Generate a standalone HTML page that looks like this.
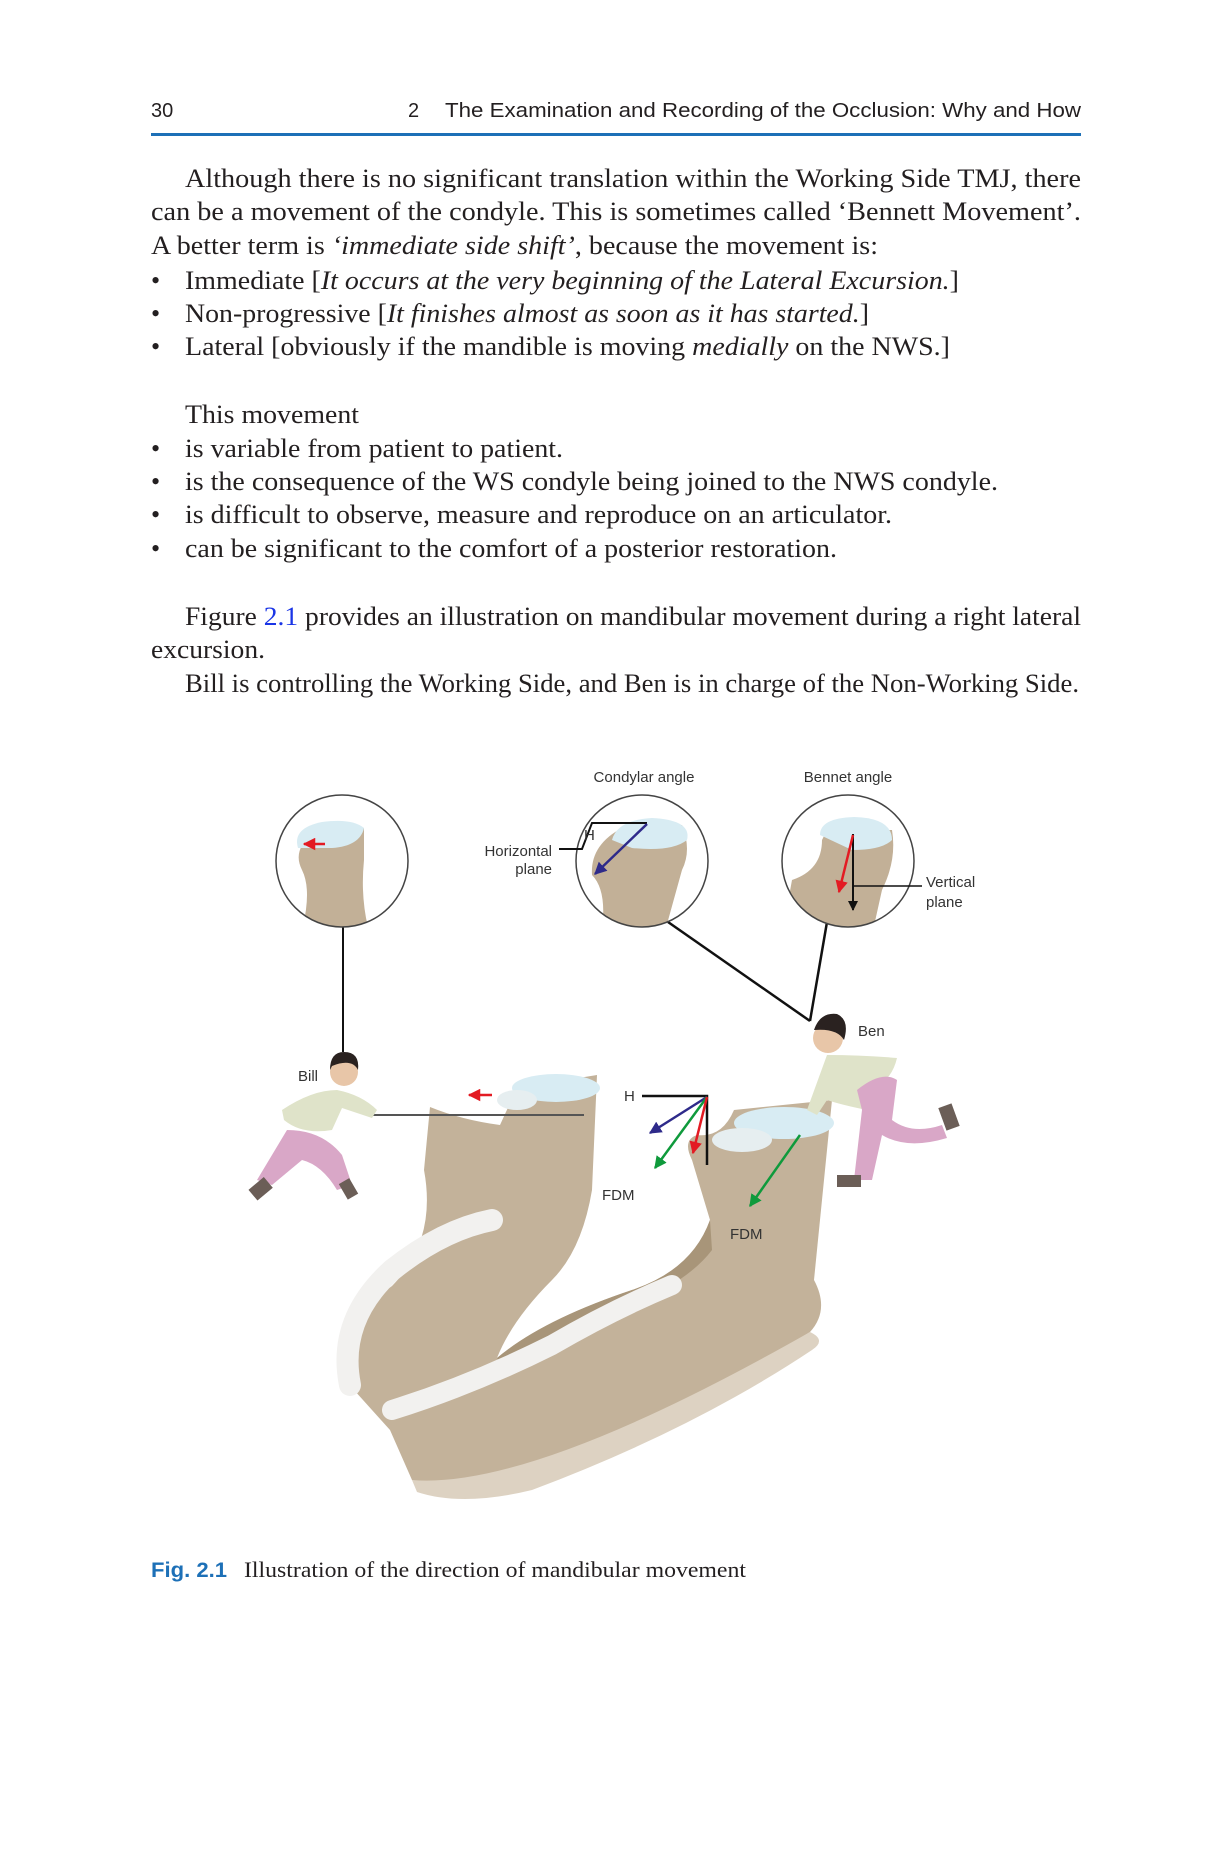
<!DOCTYPE html>
<html><head><meta charset="utf-8"><style>
html,body{margin:0;padding:0;background:#fff}
svg{display:block}
.s{font-family:"Liberation Serif",serif;font-size:26px;fill:#231f20}
.h{font-family:"Liberation Sans",sans-serif;font-size:20px;fill:#231f20}
.l{font-family:"Liberation Sans",sans-serif;font-size:15px;fill:#333}
</style></head><body>
<svg width="1221" height="1851" viewBox="0 0 1221 1851" xmlns="http://www.w3.org/2000/svg">
<defs>
<clipPath id="c1"><circle cx="350" cy="871" r="66"/></clipPath>
<clipPath id="c2"><circle cx="650" cy="871" r="66"/></clipPath>
<clipPath id="c3"><circle cx="856" cy="871" r="66"/></clipPath>
<marker id="ar" viewBox="0 0 10 10" refX="9" refY="5" markerWidth="5" markerHeight="5" orient="auto"><path d="M0,0L10,5L0,10z" fill="#e31b23"/></marker>
<marker id="ab" viewBox="0 0 10 10" refX="9" refY="5" markerWidth="5" markerHeight="5" orient="auto"><path d="M0,0L10,5L0,10z" fill="#2e2a8a"/></marker>
<marker id="ag" viewBox="0 0 10 10" refX="9" refY="5" markerWidth="5" markerHeight="5" orient="auto"><path d="M0,0L10,5L0,10z" fill="#0f9a3c"/></marker>
<marker id="ak" viewBox="0 0 10 10" refX="9" refY="5" markerWidth="5" markerHeight="5" orient="auto"><path d="M0,0L10,5L0,10z" fill="#111"/></marker>
</defs>
<text class="h" x="151" y="117">30</text>
<text class="h" x="408" y="117">2</text>
<text class="h" x="445" y="117" textLength="636" lengthAdjust="spacingAndGlyphs">The Examination and Recording of the Occlusion: Why and How</text>
<rect x="151" y="133" width="930" height="3" fill="#1d70b7"/>
<text class="s" x="185" y="187" textLength="896" lengthAdjust="spacingAndGlyphs">Although there is no significant translation within the Working Side TMJ, there</text>
<text class="s" x="151" y="220" textLength="930" lengthAdjust="spacingAndGlyphs">can be a movement of the condyle. This is sometimes called ‘Bennett Movement’.</text>
<text class="s" x="151" y="254" textLength="727" lengthAdjust="spacingAndGlyphs">A better term is <tspan font-style="italic">‘immediate side shift’</tspan>, because the movement is:</text>
<text class="s" x="151" y="289">•</text>
<text class="s" x="185" y="289" textLength="774" lengthAdjust="spacingAndGlyphs">Immediate [<tspan font-style="italic">It occurs at the very beginning of the Lateral Excursion.</tspan>]</text>
<text class="s" x="151" y="322">•</text>
<text class="s" x="185" y="322" textLength="684" lengthAdjust="spacingAndGlyphs">Non-progressive [<tspan font-style="italic">It finishes almost as soon as it has started.</tspan>]</text>
<text class="s" x="151" y="355">•</text>
<text class="s" x="185" y="355" textLength="765" lengthAdjust="spacingAndGlyphs">Lateral [obviously if the mandible is moving <tspan font-style="italic">medially</tspan> on the NWS.]</text>
<text class="s" x="185" y="423" textLength="174" lengthAdjust="spacingAndGlyphs">This movement</text>
<text class="s" x="151" y="457">•</text>
<text class="s" x="185" y="457" textLength="378" lengthAdjust="spacingAndGlyphs">is variable from patient to patient.</text>
<text class="s" x="151" y="490">•</text>
<text class="s" x="185" y="490" textLength="813" lengthAdjust="spacingAndGlyphs">is the consequence of the WS condyle being joined to the NWS condyle.</text>
<text class="s" x="151" y="523">•</text>
<text class="s" x="185" y="523" textLength="707" lengthAdjust="spacingAndGlyphs">is difficult to observe, measure and reproduce on an articulator.</text>
<text class="s" x="151" y="557">•</text>
<text class="s" x="185" y="557" textLength="652" lengthAdjust="spacingAndGlyphs">can be significant to the comfort of a posterior restoration.</text>
<text class="s" x="185" y="625" textLength="896" lengthAdjust="spacingAndGlyphs">Figure <tspan fill="#1a35e6">2.1</tspan> provides an illustration on mandibular movement during a right lateral</text>
<text class="s" x="151" y="658" textLength="114" lengthAdjust="spacingAndGlyphs">excursion.</text>
<text class="s" x="185" y="692" textLength="894" lengthAdjust="spacingAndGlyphs">Bill is controlling the Working Side, and Ben is in charge of the Non-Working Side.</text>

<g transform="translate(-8,-10)">
<line x1="351" y1="937" x2="351" y2="1062" stroke="#111" stroke-width="2"/>
<line x1="676" y1="932" x2="818" y2="1031" stroke="#111" stroke-width="2.5"/>
<line x1="835" y1="932" x2="818" y2="1031" stroke="#111" stroke-width="2.5"/>

<g clip-path="url(#c1)"><circle cx="350" cy="871" r="66" fill="#fff"/>
<path d="M310,940 Q320,900 310,880 Q300,860 320,845 Q345,830 372,838 L372,870 Q368,910 378,945 Z" fill="#c2b097"/>
<path d="M306,858 Q300,838 330,832 Q360,828 372,838 Q368,856 340,858 Z" fill="#d8ecf3"/>
</g>
<circle cx="350" cy="871" r="66" fill="none" stroke="#444" stroke-width="1.5"/>
<g clip-path="url(#c2)"><circle cx="650" cy="871" r="66" fill="#fff"/>
<path d="M610,940 Q615,900 600,885 Q598,855 630,838 L690,835 Q700,860 690,880 L672,945 Z" fill="#c2b097"/>
<path d="M620,850 Q625,830 660,828 Q700,830 695,850 Q680,862 640,858 Z" fill="#d8ecf3"/>
</g>
<circle cx="650" cy="871" r="66" fill="none" stroke="#444" stroke-width="1.5"/>
<g clip-path="url(#c3)"><circle cx="856" cy="871" r="66" fill="#fff"/>
<path d="M800,890 Q830,880 830,850 L835,840 L900,840 Q905,870 890,900 L880,945 L790,945 Z" fill="#c2b097"/>
<path d="M828,845 Q828,828 862,827 Q900,828 900,850 Q890,860 860,860 Z" fill="#d8ecf3"/>
</g>
<circle cx="856" cy="871" r="66" fill="none" stroke="#444" stroke-width="1.5"/>
<line x1="333" y1="854" x2="312" y2="854" stroke="#e31b23" stroke-width="2.5" marker-end="url(#ar)"/>
<polyline points="567,859 590,859 600,833 655,833" fill="none" stroke="#111" stroke-width="2"/>
<text class="l" x="592" y="850">H</text>
<line x1="655" y1="834" x2="603" y2="884" stroke="#2e2a8a" stroke-width="2.5" marker-end="url(#ab)"/>
<line x1="861" y1="844" x2="861" y2="920" stroke="#111" stroke-width="2" marker-end="url(#ak)"/>
<line x1="861" y1="896" x2="930" y2="896" stroke="#111" stroke-width="1.5"/>
<line x1="861" y1="845" x2="847" y2="902" stroke="#e31b23" stroke-width="2.5" marker-end="url(#ar)"/>

<path d="M438,1117 Q470,1130 508,1135 L525,1098 L605,1085 L600,1200 Q590,1260 560,1290 Q520,1330 505,1368 Q550,1330 640,1300 Q700,1280 718,1230 L700,1170 Q690,1150 705,1145 Q730,1148 742,1120 L840,1110 L822,1290 Q838,1320 818,1342 Q700,1420 540,1485 Q470,1505 420,1490 L398,1440 L362,1400 Q350,1330 400,1296 Q445,1250 432,1180 Z" fill="#c3b29a"/>
<path d="M420,1490 Q540,1500 818,1342 Q835,1350 820,1360 Q700,1440 540,1500 Q470,1517 425,1502 Z" fill="#ddd2c2"/>
<path d="M505,1368 Q550,1330 640,1300 Q700,1280 718,1230 L720,1260 Q690,1300 600,1330 Q540,1360 512,1380 Z" fill="#a89579"/>
<path d="M358,1395 Q345,1330 400,1280 Q450,1240 500,1230" fill="none" stroke="#f2f1ef" stroke-width="22" stroke-linecap="round"/>
<path d="M400,1420 Q480,1395 560,1355 Q620,1320 680,1295" fill="none" stroke="#f2f1ef" stroke-width="20" stroke-linecap="round"/>
<ellipse cx="564" cy="1098" rx="44" ry="14" fill="#d8ecf3"/>
<ellipse cx="792" cy="1133" rx="50" ry="16" fill="#d8ecf3"/>
<ellipse cx="750" cy="1150" rx="30" ry="12" fill="#e6eef0"/>
<ellipse cx="525" cy="1110" rx="20" ry="10" fill="#e6eef0"/>

<polyline points="650,1106 715,1106 715,1175" fill="none" stroke="#111" stroke-width="2.5"/>
<line x1="715" y1="1107" x2="658" y2="1143" stroke="#2e2a8a" stroke-width="2.5" marker-end="url(#ab)"/>
<line x1="715" y1="1107" x2="663" y2="1178" stroke="#0f9a3c" stroke-width="2.5" marker-end="url(#ag)"/>
<line x1="715" y1="1107" x2="701" y2="1163" stroke="#e31b23" stroke-width="2.5" marker-end="url(#ar)"/>
<line x1="808" y1="1145" x2="758" y2="1216" stroke="#0f9a3c" stroke-width="2.5" marker-end="url(#ag)"/>
<line x1="500" y1="1105" x2="477" y2="1105" stroke="#e31b23" stroke-width="2.5" marker-end="url(#ar)"/>
<line x1="378" y1="1125" x2="592" y2="1125" stroke="#555" stroke-width="2"/>

<circle cx="352" cy="1082" r="14" fill="#e8c6a8"/>
<path d="M338,1080 Q338,1062 352,1062 Q368,1062 366,1080 Q360,1068 340,1076 Z" fill="#2a2220"/>
<path d="M290,1120 Q320,1100 345,1100 Q370,1105 385,1120 L380,1128 L350,1118 L340,1140 Q310,1145 292,1130 Z" fill="#dfe3c9"/>
<path d="M295,1140 Q330,1140 350,1165 L360,1195 L345,1200 Q330,1175 310,1170 L280,1195 L265,1190 Z" fill="#d9a7c7"/>
<rect x="262" y="1188" width="14" height="20" fill="#6b5e57" transform="rotate(50 268 1198)"/>
<rect x="350" y="1190" width="12" height="18" fill="#6b5e57" transform="rotate(-30 356 1198)"/>
<circle cx="836" cy="1048" r="15" fill="#e8c6a8"/>
<path d="M822,1040 Q828,1022 845,1024 Q858,1030 852,1050 Q845,1038 822,1040 Z" fill="#2a2220"/>
<path d="M835,1065 Q870,1065 905,1068 Q900,1090 880,1100 L875,1120 Q850,1115 835,1110 L825,1125 L815,1120 Z" fill="#dfe3c9"/>
<path d="M865,1100 Q890,1080 905,1090 L900,1130 Q920,1145 950,1135 L955,1148 Q915,1160 890,1145 L880,1190 L862,1190 L870,1120 Z" fill="#d9a7c7"/>
<rect x="950" y="1115" width="14" height="24" fill="#6b5e57" transform="rotate(-20 957 1127)"/>
<rect x="845" y="1185" width="24" height="12" fill="#6b5e57"/>

<text class="l" x="652" y="792" text-anchor="middle">Condylar angle</text>
<text class="l" x="856" y="792" text-anchor="middle">Bennet angle</text>
<text class="l" x="560" y="866" text-anchor="end">Horizontal</text>
<text class="l" x="560" y="884" text-anchor="end">plane</text>
<text class="l" x="934" y="897">Vertical</text>
<text class="l" x="934" y="917">plane</text>
<text class="l" x="306" y="1091">Bill</text>
<text class="l" x="866" y="1046">Ben</text>
<text class="l" x="610" y="1210">FDM</text>
<text class="l" x="738" y="1249">FDM</text>
<text class="l" x="632" y="1111">H</text>
</g>

<text x="151" y="1577" font-family="'Liberation Sans',sans-serif" font-weight="bold" font-size="21" fill="#1d70b7" textLength="76" lengthAdjust="spacingAndGlyphs">Fig. 2.1</text>
<text class="s" x="244" y="1577" style="font-size:22px" textLength="502" lengthAdjust="spacingAndGlyphs">Illustration of the direction of mandibular movement</text>
</svg>
</body></html>
